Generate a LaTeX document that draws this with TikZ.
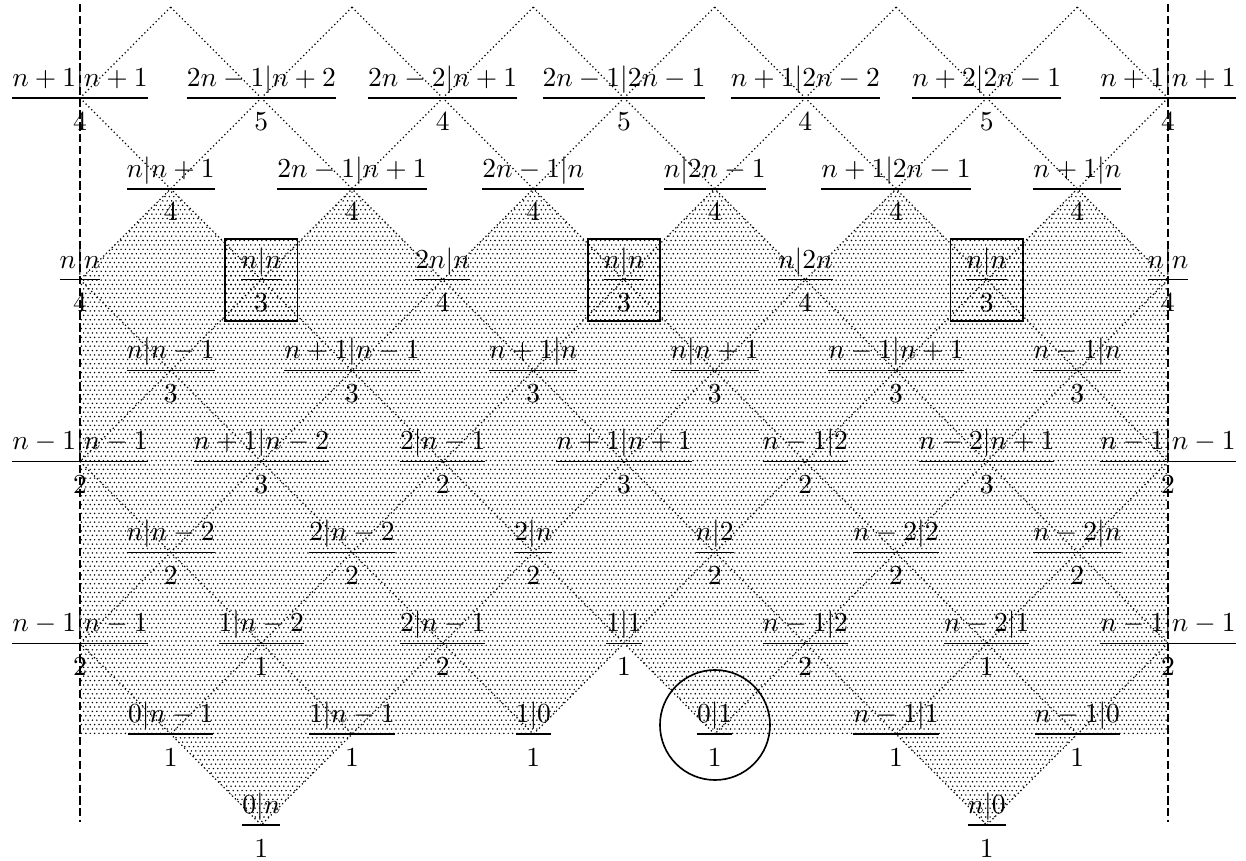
\documentclass[tikz,border=0pt]{standalone}
\usepackage{amsmath}
\usetikzlibrary{patterns}
\pgfdeclarepatternformonly{finedots}{\pgfqpoint{-0.35pt}{-0.35pt}}{\pgfqpoint{1.15pt}{1.95pt}}{\pgfqpoint{1.6pt}{3.2pt}}{\pgfpathcircle{\pgfqpoint{0pt}{0pt}}{0.3pt}\pgfpathcircle{\pgfqpoint{0.8pt}{1.6pt}}{0.3pt}\pgfusepath{fill}}
\newcommand\qf[2]{$\genfrac{}{}{0.5pt}{0}{#1}{\rule{0pt}{9.9pt}#2}$}
\tikzset{
  lab/.style={anchor=base,yshift=-2.5pt,inner sep=0pt,outer sep=0pt},
  lat/.style={line width=0.45pt,dash pattern=on 0.45pt off 1pt},
  border/.style={line width=0.55pt,dash pattern=on 3pt off 1.3pt},
  dotfill/.style={pattern=finedots},
  boxed/.style={draw,line width=0.6pt,pattern=finedots,minimum width=26.2pt,minimum height=29.8pt,inner sep=0pt},
  ring/.style={draw,circle,line width=0.6pt,minimum size=40pt,inner sep=0pt}
}
\begin{document}
\begin{tikzpicture}[x=0.3636pt,y=-0.3636pt]
\useasboundingbox (0,0) rectangle (1246,861);
\foreach \r in {-1,...,8}{\foreach \k in {0,...,12}{\coordinate (p\r-\k) at ({80+90.667*\k},{98+90.875*\r});}}
% shaded region
\fill[dotfill] (p2-0) -- (p1-1) -- (p2-2) -- (p1-3) -- (p2-4) -- (p1-5) -- (p2-6) -- (p1-7) -- (p2-8) -- (p1-9) -- (p2-10) -- (p1-11) -- (p2-12) -- (p7-12) -- (p7-11) -- (p8-10) -- (p7-9) -- (p7-7) -- (p6-6) -- (p7-5) -- (p7-3) -- (p8-2) -- (p7-1) -- (p7-0) -- cycle;
% boxes
\node[boxed] (b1) at (p2-2) {};
\node[boxed] (b2) at (p2-6) {};
\node[boxed] (b3) at (p2-10) {};
% lattice lines
\foreach \a/\b in {-1-11/0-12, -1-9/2-12, -1-7/4-12, -1-5/6-12, -1-3/7-11, -1-1/8-10, 0-0/7-7, 2-0/7-5, 4-0/7-3, 6-0/8-2, -1-1/0-0, -1-3/2-0, -1-5/4-0, -1-7/6-0, -1-9/7-1, -1-11/8-2, 0-12/7-5, 2-12/7-7, 4-12/7-9, 6-12/8-10}
  \draw[lat] (p\a) -- (p\b);
% dashed verticals
\coordinate (vlt) at (80,4); \coordinate (vlb) at (80,822);
\coordinate (vrt) at (1168,4); \coordinate (vrb) at (1168,822);
\draw[border] (vlt) -- (vlb);
\draw[border] (vrt) -- (vrb);
% circle
\node[ring] (circ) at (715,725) {};
% labels row 0
\node[lab] (a0-0) at (p0-0) {\qf{n+1|n+1}{4}};
\node[lab] (a0-2) at (p0-2) {\qf{2n-1|n+2}{5}};
\node[lab] (a0-4) at (p0-4) {\qf{2n-2|n+1}{4}};
\node[lab] (a0-6) at (p0-6) {\qf{2n-1|2n-1}{5}};
\node[lab] (a0-8) at (p0-8) {\qf{n+1|2n-2}{4}};
\node[lab] (a0-10) at (p0-10) {\qf{n+2|2n-1}{5}};
\node[lab] (a0-12) at (p0-12) {\qf{n+1|n+1}{4}};
% row 1
\node[lab] (a1-1) at (p1-1) {\qf{n|n+1}{4}};
\node[lab] (a1-3) at (p1-3) {\qf{2n-1|n+1}{4}};
\node[lab] (a1-5) at (p1-5) {\qf{2n-1|n}{4}};
\node[lab] (a1-7) at (p1-7) {\qf{n|2n-1}{4}};
\node[lab] (a1-9) at (p1-9) {\qf{n+1|2n-1}{4}};
\node[lab] (a1-11) at (p1-11) {\qf{n+1|n}{4}};
% row 2
\node[lab] (a2-0) at (p2-0) {\qf{n|n}{4}};
\node[lab] (a2-2) at (p2-2) {\qf{n|n}{3}};
\node[lab] (a2-4) at (p2-4) {\qf{2n|n}{4}};
\node[lab] (a2-6) at (p2-6) {\qf{n|n}{3}};
\node[lab] (a2-8) at (p2-8) {\qf{n|2n}{4}};
\node[lab] (a2-10) at (p2-10) {\qf{n|n}{3}};
\node[lab] (a2-12) at (p2-12) {\qf{n|n}{4}};
% row 3
\node[lab] (a3-1) at (p3-1) {\qf{n|n-1}{3}};
\node[lab] (a3-3) at (p3-3) {\qf{n+1|n-1}{3}};
\node[lab] (a3-5) at (p3-5) {\qf{n+1|n}{3}};
\node[lab] (a3-7) at (p3-7) {\qf{n|n+1}{3}};
\node[lab] (a3-9) at (p3-9) {\qf{n-1|n+1}{3}};
\node[lab] (a3-11) at (p3-11) {\qf{n-1|n}{3}};
% row 4
\node[lab] (a4-0) at (p4-0) {\qf{n-1|n-1}{2}};
\node[lab] (a4-2) at (p4-2) {\qf{n+1|n-2}{3}};
\node[lab] (a4-4) at (p4-4) {\qf{2|n-1}{2}};
\node[lab] (a4-6) at (p4-6) {\qf{n+1|n+1}{3}};
\node[lab] (a4-8) at (p4-8) {\qf{n-1|2}{2}};
\node[lab] (a4-10) at (p4-10) {\qf{n-2|n+1}{3}};
\node[lab] (a4-12) at (p4-12) {\qf{n-1|n-1}{2}};
% row 5
\node[lab] (a5-1) at (p5-1) {\qf{n|n-2}{2}};
\node[lab] (a5-3) at (p5-3) {\qf{2|n-2}{2}};
\node[lab] (a5-5) at (p5-5) {\qf{2|n}{2}};
\node[lab] (a5-7) at (p5-7) {\qf{n|2}{2}};
\node[lab] (a5-9) at (p5-9) {\qf{n-2|2}{2}};
\node[lab] (a5-11) at (p5-11) {\qf{n-2|n}{2}};
% row 6
\node[lab] (a6-0) at (p6-0) {\qf{n-1|n-1}{2}};
\node[lab] (a6-2) at (p6-2) {\qf{1|n-2}{1}};
\node[lab] (a6-4) at (p6-4) {\qf{2|n-1}{2}};
\node[lab] (a6-6) at (p6-6) {\qf{1|1}{1}};
\node[lab] (a6-8) at (p6-8) {\qf{n-1|2}{2}};
\node[lab] (a6-10) at (p6-10) {\qf{n-2|1}{1}};
\node[lab] (a6-12) at (p6-12) {\qf{n-1|n-1}{2}};
% row 7
\node[lab] (a7-1) at (p7-1) {\qf{0|n-1}{1}};
\node[lab] (a7-3) at (p7-3) {\qf{1|n-1}{1}};
\node[lab] (a7-5) at (p7-5) {\qf{1|0}{1}};
\node[lab] (a7-7) at (p7-7) {\qf{0|1}{1}};
\node[lab] (a7-9) at (p7-9) {\qf{n-1|1}{1}};
\node[lab] (a7-11) at (p7-11) {\qf{n-1|0}{1}};
% row 8
\node[lab] (a8-2) at (p8-2) {\qf{0|n}{1}};
\node[lab] (a8-10) at (p8-10) {\qf{n|0}{1}};
\end{tikzpicture}
\end{document}
